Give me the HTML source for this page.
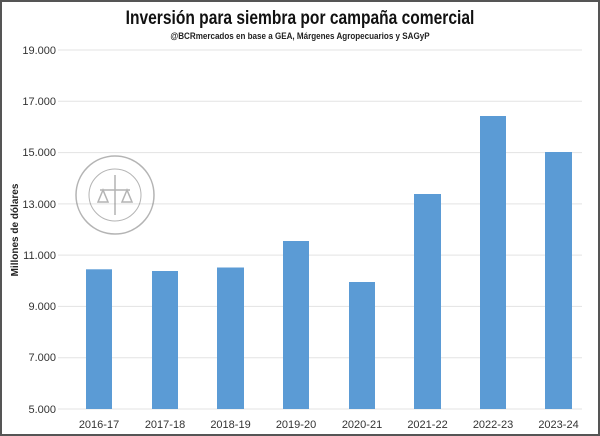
<!DOCTYPE html><html><head><style>
body{margin:0;background:#fff}
svg{display:block;font-family:"Liberation Sans",sans-serif}
</style></head><body>
<svg width="600" height="436" viewBox="0 0 600 436">
<rect x="1" y="1" width="598" height="434" fill="#fff" stroke="#555" stroke-width="2"/>
<text x="300" y="24" text-anchor="middle" font-size="19" font-weight="bold" fill="#111" transform="translate(300,0) scale(0.82,1) translate(-300,0)">Inversión para siembra por campaña comercial</text>
<text x="300" y="39" text-anchor="middle" font-size="9.5" font-weight="bold" fill="#222" transform="translate(300,0) scale(0.85,1) translate(-300,0)">@BCRmercados en base a GEA, Márgenes Agropecuarios y SAGyP</text>
<g stroke="#e3e3e3" stroke-width="1">
<line x1="58" x2="582" y1="50" y2="50"/><line x1="58" x2="582" y1="101.3" y2="101.3"/>
<line x1="58" x2="582" y1="152.6" y2="152.6"/><line x1="58" x2="582" y1="203.9" y2="203.9"/>
<line x1="58" x2="582" y1="255.1" y2="255.1"/><line x1="58" x2="582" y1="306.4" y2="306.4"/>
<line x1="58" x2="582" y1="357.7" y2="357.7"/><line x1="58" x2="582" y1="409" y2="409"/>
</g>
<g font-size="11" fill="#333" text-anchor="end">
<text x="56" y="54">19.000</text><text x="56" y="105">17.000</text><text x="56" y="156">15.000</text>
<text x="56" y="208">13.000</text><text x="56" y="259">11.000</text><text x="56" y="310">9.000</text>
<text x="56" y="361">7.000</text><text x="56" y="413">5.000</text>
</g>
<text transform="translate(18,230) rotate(-90)" text-anchor="middle" font-size="10" font-weight="bold" fill="#222">Millones de dólares</text>
<g opacity="0.55" fill="none" stroke="#777">
<circle cx="115" cy="195" r="39" stroke-width="1.5"/><circle cx="115" cy="195" r="26" stroke-width="1"/>
<path d="M115 175 V215 M100 190 H130 M103 190 L98 202 H108 Z M127 190 L122 202 H132 Z" stroke-width="1.5"/>
</g>
<g fill="#5b9bd5">
<rect x="86" y="269.3" width="26" height="139.7"/>
<rect x="152" y="271" width="26" height="138"/>
<rect x="217" y="267.5" width="27" height="141.5"/>
<rect x="283" y="241" width="26" height="168"/>
<rect x="349" y="282" width="26" height="127"/>
<rect x="414" y="194" width="27" height="215"/>
<rect x="480" y="116" width="26" height="293"/>
<rect x="545" y="152" width="27" height="257"/>
</g>
<g font-size="11" fill="#333" text-anchor="middle">
<text x="99" y="428">2016-17</text><text x="165" y="428">2017-18</text><text x="230.5" y="428">2018-19</text>
<text x="296" y="428">2019-20</text><text x="362" y="428">2020-21</text><text x="427.5" y="428">2021-22</text>
<text x="493" y="428">2022-23</text><text x="558.5" y="428">2023-24</text>
</g>
</svg>
</body></html>
